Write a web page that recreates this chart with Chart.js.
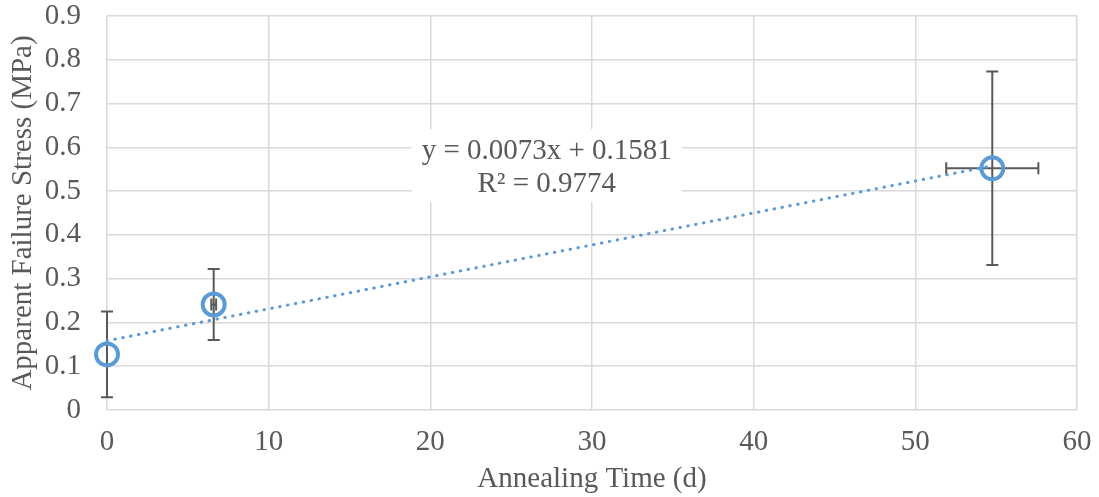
<!DOCTYPE html>
<html>
<head>
<meta charset="utf-8">
<script src="https://cdn.jsdelivr.net/npm/chart.js@4"></script>
<style>
  html, body { margin: 0; padding: 0; background: #fff; }
  #wrap { width: 1099px; height: 497px; }
</style>
</head>
<body>
<div id="wrap"><canvas id="chart1"></canvas></div>
<script>
// data
const annealDays = [0, 6.6, 54.76];
const failStress = [0.127, 0.241, 0.552];
const stressErr = [0.098, 0.081, 0.221];
const dayErr = [0, 0.15, 2.85];
const xTickLabels = ['0', '10', '20', '30', '40', '50', '60'];
const yTickLabels = ['0', '0.1', '0.2', '0.3', '0.4', '0.5', '0.6', '0.7', '0.8', '0.9'];
// Excel linear trendline
const trendSlope = 0.0073;
const trendIntercept = 0.1581;
const trendText = ['y = 0.0073x + 0.1581', 'R\u00b2 = 0.9774'];

const blue = '#5B9BD5';
const grey = '#595959';
const font = 'Liberation Serif, Times New Roman, serif';
const fontSize = 29;

const errorBars = {
    id: 'errorBars',
    beforeDatasetsDraw(chart) {
        const { ctx, scales: { x, y } } = chart;
        const cap = 6;
        ctx.save();
        ctx.strokeStyle = grey;
        ctx.lineWidth = 2;
        annealDays.forEach((d, i) => {
            const px = x.getPixelForValue(d);
            const py = y.getPixelForValue(failStress[i]);
            const top = y.getPixelForValue(failStress[i] + stressErr[i]);
            const bot = y.getPixelForValue(failStress[i] - stressErr[i]);
            ctx.beginPath();
            ctx.moveTo(px, top); ctx.lineTo(px, bot);
            ctx.moveTo(px - cap, top); ctx.lineTo(px + cap, top);
            ctx.moveTo(px - cap, bot); ctx.lineTo(px + cap, bot);
            if (dayErr[i] > 0) {
                const l = x.getPixelForValue(d - dayErr[i]);
                const r = x.getPixelForValue(d + dayErr[i]);
                ctx.moveTo(l, py); ctx.lineTo(r, py);
                ctx.moveTo(l, py - cap); ctx.lineTo(l, py + cap);
                ctx.moveTo(r, py - cap); ctx.lineTo(r, py + cap);
            }
            ctx.stroke();
        });
        ctx.restore();
    },
    afterDraw(chart) {
        // trendline label box, like Excel's
        const { ctx, scales: { x, y } } = chart;
        const cx = x.getPixelForValue(27.2);
        const cy = y.getPixelForValue(0.557);
        ctx.save();
        ctx.font = fontSize + 'px ' + font;
        ctx.fillStyle = '#fff';
        ctx.fillRect(cx - 135, cy - 37, 270, 73);
        ctx.fillStyle = grey;
        ctx.textAlign = 'center';
        ctx.textBaseline = 'middle';
        ctx.fillText(trendText[0], cx, cy - 15);
        ctx.fillText(trendText[1], cx, cy + 18);
        ctx.restore();
    }
};

window.addEventListener('DOMContentLoaded', () => {
    const lastDay = annealDays[annealDays.length - 1];
    const ctx1 = document.getElementById('chart1').getContext('2d');
    new Chart(ctx1, {
        type: 'scatter',
        data: {
            datasets: [{
                label: 'Failure stress',
                data: annealDays.map((d, i) => ({ x: d, y: failStress[i] })),
                pointRadius: 11,
                pointHoverRadius: 11,
                pointBorderWidth: 4,
                pointBorderColor: blue,
                pointBackgroundColor: 'rgba(0,0,0,0)',
                clip: false,
                order: 1
            }, {
                label: 'Linear trend',
                type: 'line',
                data: [
                    { x: 0, y: trendIntercept },
                    { x: lastDay, y: trendIntercept + trendSlope * lastDay }
                ],
                borderColor: blue,
                borderWidth: 3,
                borderDash: [0.5, 7.5],
                borderCapStyle: 'round',
                pointRadius: 0,
                fill: false,
                clip: false,
                order: 2
            }]
        },
        plugins: [errorBars],
        options: {
            responsive: true,
            maintainAspectRatio: false,
            animation: false,
            layout: { padding: { left: 2, right: 22, top: 16, bottom: 0 } },
            plugins: {
                legend: { display: false },
                tooltip: { enabled: false }
            },
            scales: {
                x: {
                    type: 'linear',
                    min: 0, max: 60,
                    grid: { color: '#d9d9d9', lineWidth: 1.5, drawTicks: false },
                    border: { display: false },
                    afterFit: (s) => { s.height = 87; s.paddingLeft = 0; s.paddingRight = 0; },
                    ticks: {
                        stepSize: 10,
                        padding: 15,
                        maxRotation: 0,
                        color: grey,
                        font: { family: font, size: fontSize },
                        callback: (v, i) => xTickLabels[i]
                    },
                    title: {
                        display: true,
                        text: 'Annealing Time (d)',
                        color: grey,
                        font: { family: font, size: fontSize },
                        padding: { top: 0, bottom: 0 }
                    }
                },
                y: {
                    min: 0, max: 0.9,
                    grid: { color: '#d9d9d9', lineWidth: 1.5, drawTicks: false },
                    border: { display: false },
                    afterFit: (s) => { s.width = 105; s.paddingTop = 0; s.paddingBottom = 0; },
                    ticks: {
                        stepSize: 0.1,
                        padding: 26,
                        color: grey,
                        font: { family: font, size: fontSize },
                        callback: (v, i) => yTickLabels[i]
                    },
                    title: {
                        display: true,
                        text: 'Apparent Failure Stress (MPa)',
                        color: grey,
                        font: { family: font, size: fontSize },
                        padding: { top: 4, bottom: 0 }
                    }
                }
            }
        }
    });
});
</script>
</body>
</html>
